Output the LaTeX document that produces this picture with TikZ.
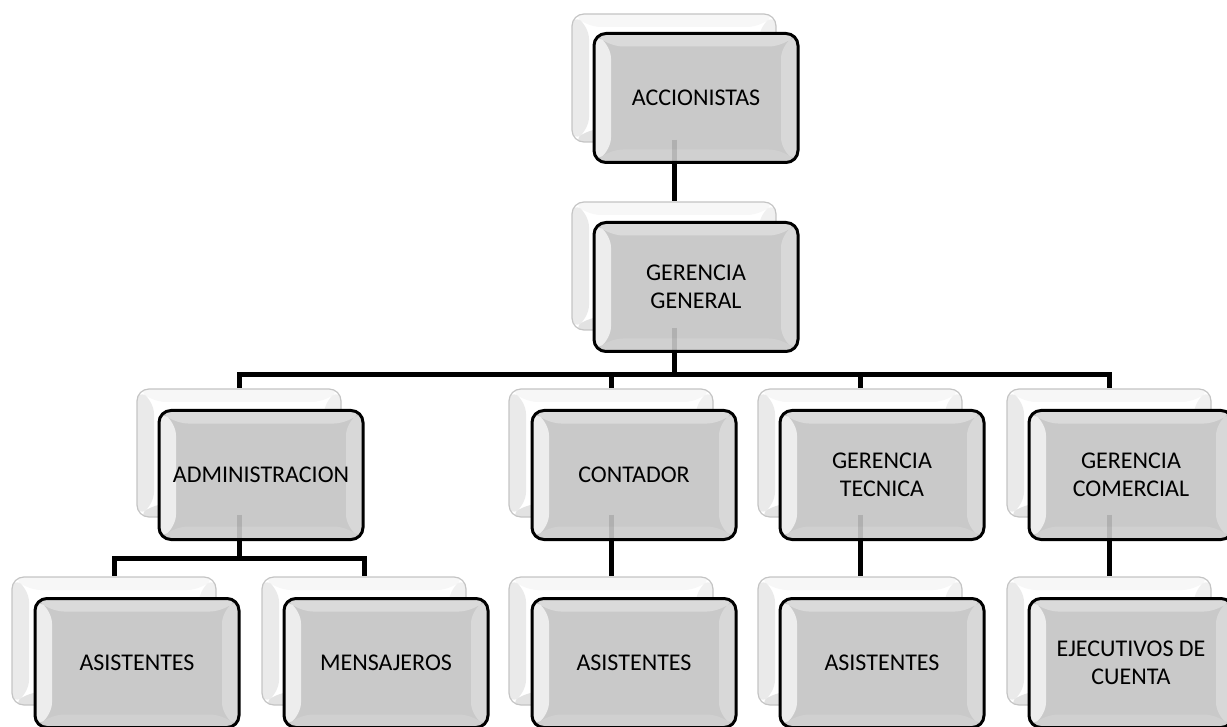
\documentclass[tikz,border=0pt]{standalone}
\usepackage{fontspec}
\setmainfont{Carlito}
\usetikzlibrary{calc}
\definecolor{fgc}{HTML}{C9C9C9}
\definecolor{fgtop}{HTML}{DADADA}
\definecolor{fgleft}{HTML}{EDEDED}
\definecolor{fgright}{HTML}{D8D8D8}
\definecolor{fgbot}{HTML}{D0D0D0}
\definecolor{bkedge}{HTML}{C4C4C4}
\definecolor{bktop}{HTML}{F7F7F7}
\definecolor{bkleft}{HTML}{EAEAEA}
\definecolor{bkright}{HTML}{F0F0F0}
\definecolor{bkbot}{HTML}{E2E2E2}
\tikzset{
  bevel/.style n args={4}{path picture={
    \path (path picture bounding box.north west) coordinate (@nw)
          (path picture bounding box.south east) coordinate (@se)
          (path picture bounding box.north east) coordinate (@ne)
          (path picture bounding box.south west) coordinate (@sw);
    \fill[#1] (@nw) -- (@ne) -- ([xshift=-17pt,yshift=-13pt]@ne) -- ([xshift=17pt,yshift=-13pt]@nw) -- cycle;
    \fill[#2] (@nw) -- ([xshift=17pt,yshift=-13pt]@nw) -- ([xshift=17pt,yshift=13pt]@sw) -- (@sw) -- cycle;
    \fill[#3] (@ne) -- (@se) -- ([xshift=-17pt,yshift=13pt]@se) -- ([xshift=-17pt,yshift=-13pt]@ne) -- cycle;
    \fill[#4] (@sw) -- ([xshift=17pt,yshift=13pt]@sw) -- ([xshift=-17pt,yshift=13pt]@se) -- (@se) -- cycle;
  }},
  backbox/.style={rounded corners=12pt, draw=bkedge, line width=1.2pt, fill=white,
    minimum width=204pt, minimum height=128pt, inner sep=0pt,
    bevel={bktop}{bkleft}{bkright}{bkbot}},
  frontbox/.style={rounded corners=12pt, draw=black, line width=3pt, fill=fgc,
    minimum width=204pt, minimum height=129pt, inner sep=0pt, align=center,
    font=\fontsize{24}{27.5}\selectfont, text=black,
    bevel={fgtop}{fgleft}{fgright}{fgbot}},
  conn/.style={draw=black, line width=5pt, line join=miter},
  faint/.style={draw=black, line width=5pt, opacity=0.12}
}
\begin{document}
\begin{tikzpicture}[x=1pt,y=-1pt]
\useasboundingbox (0,0) rectangle (1227,727);
\clip (0,0) rectangle (1227,727);
\coordinate (bus1) at (0,375);
\coordinate (bus2) at (0,558);

% back boxes
\node[backbox] (accB) at (674,78) {};
\node[backbox] (ggB)  at (674,266) {};
\node[backbox] (admB) at (239,453) {};
\node[backbox] (conB) at (611,453) {};
\node[backbox] (tecB) at (860,453) {};
\node[backbox] (comB) at (1109,453) {};
\node[backbox] (as1B) at (114,641) {};
\node[backbox] (menB) at (364,641) {};
\node[backbox] (as2B) at (611,641) {};
\node[backbox] (as3B) at (860,641) {};
\node[backbox] (ejeB) at (1109,641) {};

% connectors
\draw[conn] (accB.south) -- (ggB.north);
\draw[conn] (ggB.south) -- (ggB.south |- bus1) -| (admB.north);
\draw[conn] (ggB.south |- bus1) -| (conB.north);
\draw[conn] (ggB.south |- bus1) -| (tecB.north);
\draw[conn] (ggB.south |- bus1) -| (comB.north);
\draw[conn] (admB.south) -- (admB.south |- bus2) -| (as1B.north);
\draw[conn] (admB.south |- bus2) -| (menB.north);
\draw[conn] (conB.south) -- (as2B.north);
\draw[conn] (tecB.south) -- (as3B.north);
\draw[conn] (comB.south) -- (ejeB.north);

% front boxes
\node[frontbox] (acc) at (696,98) {ACCIONISTAS};
\node[frontbox] (gg)  at (696,287) {GERENCIA\\GENERAL};
\node[frontbox] (adm) at (261,475) {ADMINISTRACION};
\node[frontbox] (con) at (634,475) {CONTADOR};
\node[frontbox] (tec) at (882,475) {GERENCIA\\TECNICA};
\node[frontbox] (com) at (1131,475) {GERENCIA\\COMERCIAL};
\node[frontbox] (as1) at (137,663) {ASISTENTES};
\node[frontbox] (men) at (386,663) {MENSAJEROS};
\node[frontbox] (as2) at (634,663) {ASISTENTES};
\node[frontbox] (as3) at (882,663) {ASISTENTES};
\node[frontbox] (eje) at (1131,663) {EJECUTIVOS DE\\CUENTA};

% faint lines seen through the front boxes
\draw[faint] ([yshift=3pt]accB.south) -- (accB.south |- acc.south);
\draw[faint] ([yshift=3pt]ggB.south) -- (ggB.south |- gg.south);
\draw[faint] ([yshift=3pt]admB.south) -- (admB.south |- adm.south);
\draw[faint] ([yshift=3pt]conB.south) -- (conB.south |- con.south);
\draw[faint] ([yshift=3pt]tecB.south) -- (tecB.south |- tec.south);
\draw[faint] ([yshift=3pt]comB.south) -- (comB.south |- com.south);
\end{tikzpicture}
\end{document}
